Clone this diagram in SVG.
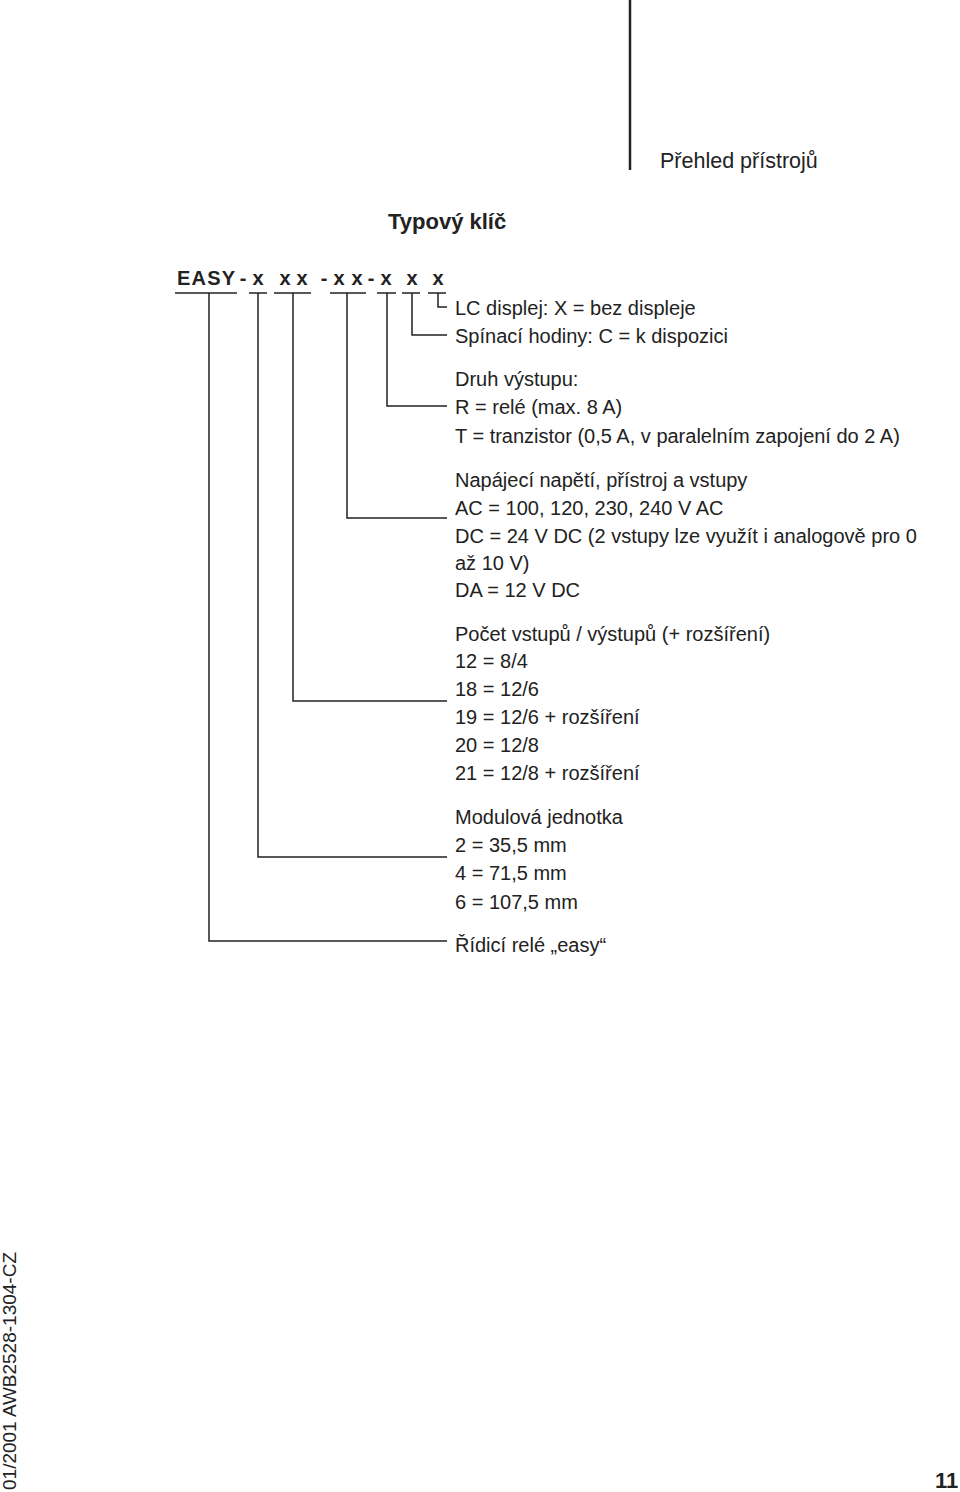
<svg xmlns="http://www.w3.org/2000/svg" width="960" height="1492" viewBox="0 0 960 1492">
<style>
text{font-family:"Liberation Sans",Arial,sans-serif;fill:#222}
.t{font-size:20px}
.c{font-size:20px;font-weight:bold;text-anchor:middle}
line,polyline{stroke:#222;stroke-width:1.5;fill:none}
</style>
<rect width="960" height="1492" fill="#fff"/>
<line x1="630" y1="0" x2="630" y2="170" style="stroke-width:2.5"/>
<text x="660" y="168" font-size="21.5">Přehled přístrojů</text>
<text x="388" y="229" font-size="22" font-weight="bold">Typový klíč</text>
<g id="code">
<text x="177" y="285" font-size="20" font-weight="bold" textLength="58">EASY</text>
<text class="c" x="243" y="285">-</text>
<text class="c" x="258" y="285">x</text>
<text class="c" x="285" y="285">x</text>
<text class="c" x="302" y="285">x</text>
<text class="c" x="324" y="285">-</text>
<text class="c" x="339" y="285">x</text>
<text class="c" x="357" y="285">x</text>
<text class="c" x="371" y="285">-</text>
<text class="c" x="386" y="285">x</text>
<text class="c" x="412" y="285">x</text>
<text class="c" x="438" y="285">x</text>
</g>
<g id="connectors">
<line x1="175" y1="293" x2="237" y2="293"/><line x1="249" y1="293" x2="267" y2="293"/>
<line x1="274" y1="293" x2="311" y2="293"/><line x1="330" y1="293" x2="366" y2="293"/>
<line x1="377" y1="293" x2="396" y2="293"/><line x1="402" y1="293" x2="420" y2="293"/>
<line x1="428" y1="293" x2="446" y2="293"/>
<polyline points="438,293 438,307 447,307"/>
<polyline points="412,293 412,335 447,335"/>
<polyline points="387,293 387,406 447,406"/>
<polyline points="347,293 347,518 447,518"/>
<polyline points="293,293 293,701 447,701"/>
<polyline points="258,293 258,857 447,857"/>
<polyline points="209,293 209,941 447,941"/>
</g>
<g id="texts">
<text class="t" x="455" y="315">LC displej: X = bez displeje</text>
<text class="t" x="455" y="343">Spínací hodiny: C = k dispozici</text>
<text class="t" x="455" y="386">Druh výstupu:</text>
<text class="t" x="455" y="414">R = relé (max. 8 A)</text>
<text class="t" x="455" y="443">T = tranzistor (0,5 A, v paralelním zapojení do 2 A)</text>
<text class="t" x="455" y="487">Napájecí napětí, přístroj a vstupy</text>
<text class="t" x="455" y="515">AC = 100, 120, 230, 240 V AC</text>
<text class="t" x="455" y="543">DC = 24 V DC (2 vstupy lze využít i analogově pro 0</text>
<text class="t" x="455" y="570">až 10 V)</text>
<text class="t" x="455" y="597">DA = 12 V DC</text>
<text class="t" x="455" y="641">Počet vstupů / výstupů (+ rozšíření)</text>
<text class="t" x="455" y="668">12 = 8/4</text>
<text class="t" x="455" y="696">18 = 12/6</text>
<text class="t" x="455" y="724">19 = 12/6 + rozšíření</text>
<text class="t" x="455" y="752">20 = 12/8</text>
<text class="t" x="455" y="780">21 = 12/8 + rozšíření</text>
<text class="t" x="455" y="824">Modulová jednotka</text>
<text class="t" x="455" y="852">2 = 35,5 mm</text>
<text class="t" x="455" y="880">4 = 71,5 mm</text>
<text class="t" x="455" y="909">6 = 107,5 mm</text>
<text class="t" x="455" y="952">Řídicí relé „easy“</text>
</g>
<text transform="translate(16,1490) rotate(-90)" font-size="19">01/2001 AWB2528-1304-CZ</text>
<text x="935" y="1488" font-size="22" font-weight="bold">11</text>
</svg>
